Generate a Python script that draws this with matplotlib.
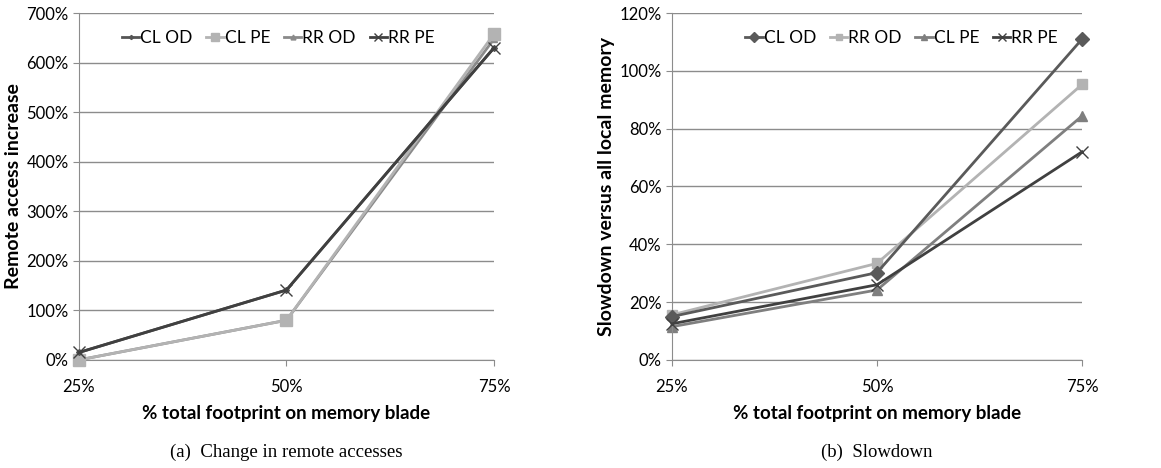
import matplotlib
matplotlib.use("Agg")
import matplotlib.pyplot as plt
from matplotlib.ticker import FuncFormatter

# data
footprint = ["25%", "50%", "75%"]

# (a) change in remote accesses (%)
a_cl_od = [15, 141, 630]
a_cl_pe = [0, 80, 658]
a_rr_od = [0, 80, 648]
a_rr_pe = [15, 141, 630]

# (b) slowdown (%)
b_cl_od = [15, 30.2, 111]
b_rr_od = [15.6, 33.4, 95.3]
b_cl_pe = [11.5, 24.2, 84.4]
b_rr_pe = [12.5, 26, 72]

plt.rcParams['font.family'] = ['Lato', 'DejaVu Sans']

fig = plt.figure(figsize=(11.61, 4.68), dpi=100)
ax1 = fig.add_axes([0.068, 0.231, 0.3575, 0.741])
ax2 = fig.add_axes([0.5788, 0.231, 0.3532, 0.741])

pct = FuncFormatter(lambda v, p: "%d%%" % v)


def style(ax, ymax, step, ylabel):
    x = range(len(footprint))
    ax.set_xlim(0, 2)
    ax.set_ylim(0, ymax)
    ax.set_yticks(range(0, ymax + 1, step))
    ax.yaxis.set_major_formatter(pct)
    ax.set_xticks(list(x))
    ax.set_xticklabels(footprint)
    ax.grid(axis='y', color='#8c8c8c', lw=1)
    ax.set_axisbelow(True)
    for s in ['top', 'right']:
        ax.spines[s].set_visible(False)
    ax.spines['left'].set_color('#8c8c8c')
    ax.spines['bottom'].set_color('#8c8c8c')
    ax.tick_params(axis='both', colors='#8c8c8c', labelcolor='black',
                   labelsize=12, length=4)
    ax.tick_params(axis='x', pad=10)
    ax.set_xlabel("% total footprint on memory blade", fontsize=13.5,
                  fontweight='bold', labelpad=7)
    ax.set_ylabel(ylabel, fontsize=14, fontweight='bold', labelpad=3)


x = range(len(footprint))
ax1.plot(x, a_cl_od, color='#555555', lw=2.0, marker='D', ms=3, label='CL OD', clip_on=False, zorder=4)
ax1.plot(x, a_cl_pe, color='#b3b3b3', lw=2.0, marker='s', ms=8, label='CL PE', clip_on=False, zorder=3)
ax1.plot(x, a_rr_od, color='#8a8a8a', lw=2.0, marker='^', ms=5, label='RR OD', clip_on=False, zorder=2)
ax1.plot(x, a_rr_pe, color='#404040', lw=2.0, marker='x', ms=8, mew=1, label='RR PE', clip_on=False, zorder=5)
style(ax1, 700, 100, "Remote access increase")

ax2.plot(x, b_cl_od, color='#5a5a5a', lw=2.0, marker='D', ms=7, label='CL OD', clip_on=False, zorder=4)
ax2.plot(x, b_rr_od, color='#b3b3b3', lw=2.0, marker='s', ms=7, label='RR OD', clip_on=False, zorder=3)
ax2.plot(x, b_cl_pe, color='#7f7f7f', lw=2.0, marker='^', ms=7, label='CL PE', clip_on=False, zorder=2)
ax2.plot(x, b_rr_pe, color='#404040', lw=2.0, marker='x', ms=9, mew=1, label='RR PE', clip_on=False, zorder=5)
style(ax2, 120, 20, "Slowdown versus all local memory")

for ax, cx in ((ax1, 0.48), (ax2, 0.56)):
    leg = ax.legend(loc='center', bbox_to_anchor=(cx, 0.928), ncol=4, frameon=False,
                    fontsize=12.5, handlelength=1.0, handletextpad=0.05,
                    columnspacing=0.8, markerscale=0.7)

fig.text(0.2468, 0.034, "(a)  Change in remote accesses", ha='center', va='center',
         family='Liberation Serif', fontsize=13.5)
fig.text(0.755, 0.034, "(b)  Slowdown", ha='center', va='center',
         family='Liberation Serif', fontsize=13.5)

fig.savefig("out.png", dpi=100)
